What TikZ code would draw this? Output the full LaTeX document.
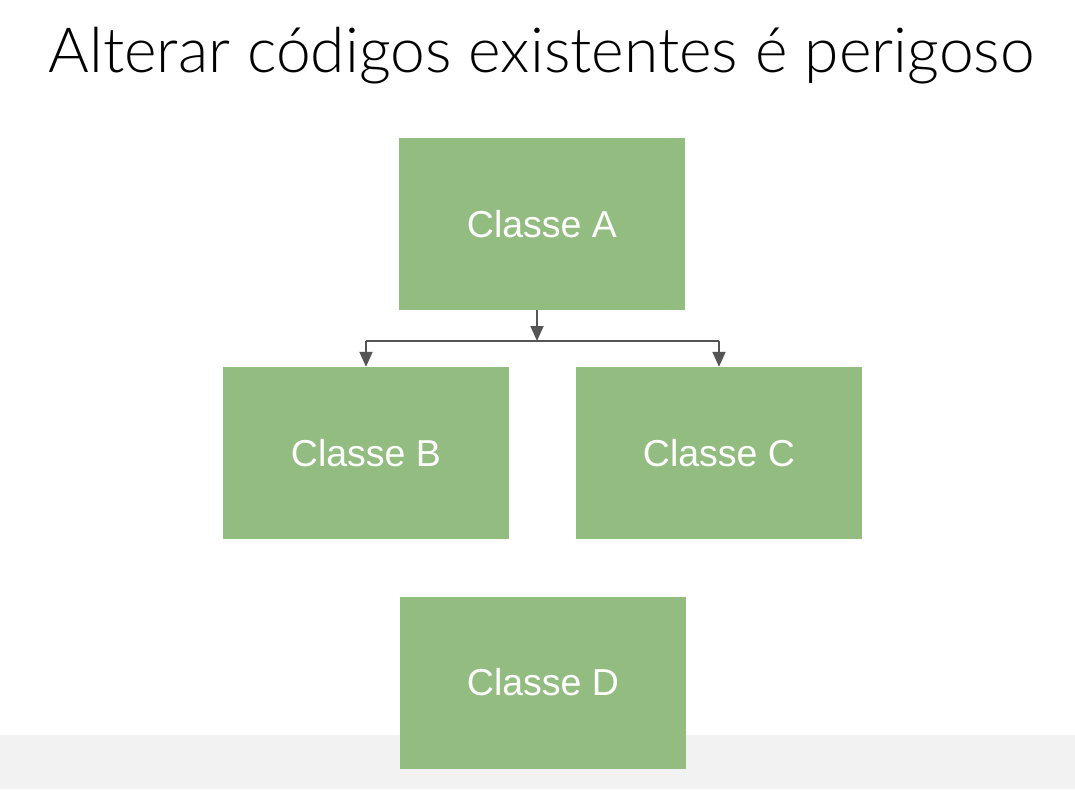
\documentclass[tikz,border=0pt]{standalone}
\usepackage{fontspec}
\setmainfont{Liberation Sans}
\newfontfamily\titlefont{Lato Light}
\usetikzlibrary{arrows.meta}
\definecolor{boxgreen}{HTML}{93BC81}
\definecolor{linegray}{HTML}{555555}
\definecolor{stripgray}{HTML}{F2F2F2}
\begin{document}
\begin{tikzpicture}[x=1pt,y=-1pt,
  classbox/.style={fill=boxgreen,draw=none,minimum width=286pt,minimum height=172pt,inner sep=0pt,text=white,font=\fontsize{37.5pt}{42pt}\selectfont},
  conn/.style={draw=linegray,line width=1.8pt,-{Triangle[length=15pt,width=13pt]}},
  plain/.style={draw=linegray,line width=1.8pt}]
\useasboundingbox (0,0) rectangle (1075,789);
\fill[white] (0,0) rectangle (1075,789);
\fill[stripgray] (0,735) rectangle (1075,789);
\node[anchor=base,font=\titlefont\fontsize{62.3pt}{68pt}\selectfont] (title) at (541.5,73) {Alterar códigos existentes é perigoso};
\node[classbox] (A) at (542,224) {Classe A};
\node[classbox] (B) at (366,453) {Classe B};
\node[classbox] (C) at (719,453) {Classe C};
\node[classbox] (D) at (543,682.5) {Classe D};
\coordinate (J) at (537,341);
\coordinate (L) at (366,341);
\coordinate (R) at (719,341);
\draw[conn] (A.south -| J) -- (J);
\draw[plain] (L) -- (R);
\draw[conn] (L) -- (B.north);
\draw[conn] (R) -- (C.north);
\end{tikzpicture}
\end{document}
